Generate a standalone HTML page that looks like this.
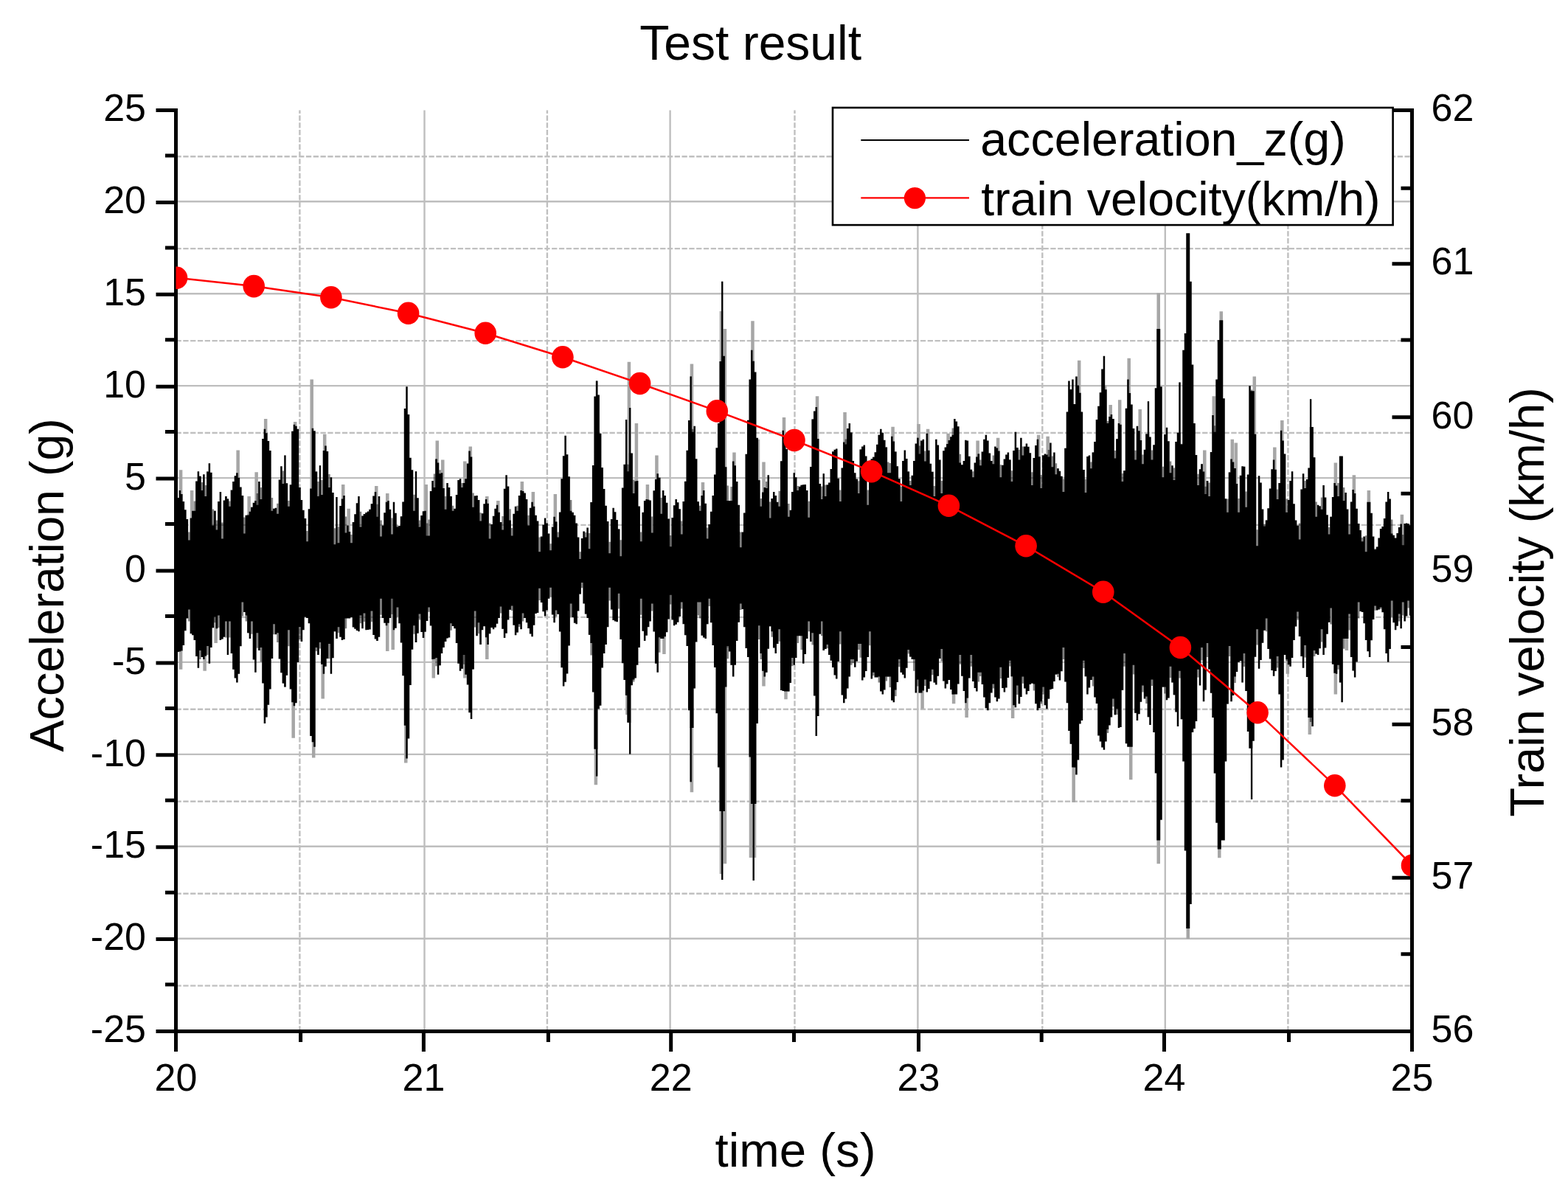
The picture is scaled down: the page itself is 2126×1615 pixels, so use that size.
<!DOCTYPE html>
<html lang="en">
<head>
<meta charset="utf-8">
<title>Test result</title>
<style>
html,body{margin:0;padding:0;background:#fff;}
body{width:2126px;height:1615px;overflow:hidden;}
svg{display:block;}
</style>
</head>
<body>
<svg width="2126" height="1615" viewBox="0 0 2126 1615" font-family='"Liberation Sans", sans-serif'>
<rect width="2126" height="1615" fill="#fff"/>
<g fill="none">
<path d="M238.5 212.2H1914.5M238.5 337.1H1914.5M238.5 462.1H1914.5M238.5 587.0H1914.5M238.5 711.9H1914.5M238.5 836.9H1914.5M238.5 961.8H1914.5M238.5 1086.7H1914.5M238.5 1211.7H1914.5M238.5 1336.6H1914.5M406.4 1398.5V149.5M741.9 1398.5V149.5M1077.5 1398.5V149.5M1413.3 1398.5V149.5M1746.4 1398.5V149.5" stroke="#c0c0c0" stroke-width="2.4" stroke-dasharray="7.3 2.5"/>
<path d="M238.5 273.3H1914.5M238.5 398.2H1914.5M238.5 523.1H1914.5M238.5 648.1H1914.5M238.5 773.0H1914.5M238.5 897.9H1914.5M238.5 1022.9H1914.5M238.5 1147.8H1914.5M238.5 1272.7H1914.5M575.5 149.5V1398.5M908.6 149.5V1398.5M1244.4 149.5V1398.5M1579.8 149.5V1398.5" stroke="#bebebe" stroke-width="2.4"/>
</g>
<g stroke="#000" stroke-width="5" fill="none">
<path d="M238.5 147.0V1426.0M211.5 1398.5H1917.0M1914.5 147.0V1426.0M211.5 149.5H238.5M211.5 274.4H238.5M211.5 399.3H238.5M211.5 524.2H238.5M211.5 649.1H238.5M211.5 774.0H238.5M211.5 898.9H238.5M211.5 1023.8H238.5M211.5 1148.7H238.5M211.5 1273.6H238.5M211.5 1398.5H238.5M224.0 210.9H238.5M224.0 335.9H238.5M224.0 460.8H238.5M224.0 585.6H238.5M224.0 710.5H238.5M224.0 835.5H238.5M224.0 960.4H238.5M224.0 1085.2H238.5M224.0 1210.2H238.5M224.0 1335.0H238.5M238.5 1398.5V1426.0M574.4 1398.5V1426.0M909.7 1398.5V1426.0M1245.5 1398.5V1426.0M1578.5 1398.5V1426.0M1914.5 1398.5V1426.0M407.6 1398.5V1413.0M743.4 1398.5V1413.0M1076.5 1398.5V1413.0M1412.2 1398.5V1413.0M1747.5 1398.5V1413.0M1887.5 1398.5H1914.5M1887.5 1190.3H1914.5M1887.5 982.2H1914.5M1887.5 774.0H1914.5M1887.5 565.8H1914.5M1887.5 357.7H1914.5M1887.5 149.5H1914.5M1899.5 1293.8H1914.5M1899.5 1085.7H1914.5M1899.5 877.5H1914.5M1899.5 669.3H1914.5M1899.5 461.1H1914.5M1899.5 255.2H1914.5"/>
</g>
<clipPath id="c"><rect x="238.5" y="149.5" width="1673.5" height="1249.0"/></clipPath>
<g clip-path="url(#c)">
<path d="M242.86 773V637.3h4.50V773zM257.87 773V665.0h4.50V773zM320.40 773V610.5h4.50V773zM335.41 773V672.9h4.50V773zM345.41 773V640.2h4.50V773zM357.92 773V567.9h4.50V773zM397.94 773V571.9h4.50V773zM420.45 773V514.4h4.50V773zM437.96 773V588.7h4.50V773zM462.97 773V657.1h4.50V773zM470.47 773V689.8h4.50V773zM507.99 773V659.1h4.50V773zM523.00 773V669.0h4.50V773zM575.52 773V657.1h4.50V773zM590.53 773V597.6h4.50V773zM598.03 773V623.4h4.50V773zM628.05 773V625.4h4.50V773zM635.55 773V605.6h4.50V773zM658.06 773V672.9h4.50V773zM673.07 773V678.9h4.50V773zM705.58 773V653.1h4.50V773zM720.59 773V667.0h4.50V773zM750.60 773V670.0h4.50V773zM975.71 773V421.9h4.50V773zM980.71 773V446.1h4.50V773zM850.65 773V490.7h4.50V773zM860.65 773V573.9h4.50V773zM875.66 773V657.1h4.50V773zM888.17 773V617.5h4.50V773zM935.69 773V493.6h4.50V773zM950.70 773V654.1h4.50V773zM993.22 773V613.5h4.50V773zM1018.23 773V435.2h4.50V773zM1025.73 773V595.7h4.50V773zM1033.24 773V626.4h4.50V773zM1060.75 773V565.9h4.50V773zM1105.77 773V537.2h4.50V773zM1143.29 773V559.0h4.50V773zM1208.32 773V578.8h4.50V773zM1243.33 773V574.9h4.50V773zM1255.84 773V581.8h4.50V773zM1283.35 773V587.7h4.50V773zM1323.37 773V597.6h4.50V773zM1350.89 773V593.7h4.50V773zM1405.91 773V589.7h4.50V773zM1418.42 773V591.7h4.50V773zM1460.94 773V488.7h4.50V773zM1495.95 773V522.4h4.50V773zM1503.46 773V549.1h4.50V773zM1515.96 773V542.2h4.50V773zM1528.47 773V485.7h4.50V773zM1543.48 773V555.0h4.50V773zM1568.49 773V397.5h4.50V773zM1631.02 773V610.5h4.50V773zM1643.52 773V537.2h4.50V773zM1653.53 773V422.3h4.50V773zM1668.53 773V595.7h4.50V773zM1673.54 773V600.6h4.50V773zM1698.55 773V510.5h4.50V773zM1726.06 773V606.6h4.50V773zM1736.07 773V569.9h4.50V773zM1808.60 773V627.4h4.50V773zM1833.61 773V644.2h4.50V773zM1853.62 773V665.0h4.50V773zM1898.64 773V697.7h4.50V773zM242.86 773V907.7h4.50V773zM275.38 773V909.7h4.50V773zM290.39 773V872.1h4.50V773zM395.44 773V1000.8h4.50V773zM422.95 773V1027.6h4.50V773zM435.45 773V947.4h4.50V773zM523.00 773V883.0h4.50V773zM530.50 773V881.0h4.50V773zM548.01 773V1034.5h4.50V773zM585.53 773V919.6h4.50V773zM628.05 773V919.6h4.50V773zM658.06 773V893.9h4.50V773zM805.63 773V1064.2h4.50V773zM848.15 773V969.2h4.50V773zM898.17 773V886.9h4.50V773zM935.69 773V1074.2h4.50V773zM975.71 773V1185.1h4.50V773zM980.71 773V1171.2h4.50V773zM1015.73 773V1162.9h4.50V773zM1020.73 773V1162.9h4.50V773zM983.21 773V878.0h4.50V773zM1033.24 773V930.5h4.50V773zM1063.25 773V948.3h4.50V773zM1248.34 773V961.2h4.50V773zM1290.86 773V954.3h4.50V773zM1308.37 773V973.1h4.50V773zM1370.89 773V974.1h4.50V773zM1453.43 773V1088.0h4.50V773zM1530.97 773V1057.3h4.50V773zM1568.49 773V1171.2h4.50V773zM1608.51 773V1273.1h4.50V773zM1651.03 773V1163.3h4.50V773zM1743.57 773V913.7h4.50V773zM1773.58 773V995.9h4.50V773zM1808.60 773V941.4h4.50V773zM1823.61 773V882.0h4.50V773z" fill="#a6a6a6"/>
<path d="M307.85 841.9V887.9h2.1V841.9zM385.38 655.7V617.5h2.1V655.7zM432.90 671.4V631.3h2.1V671.4zM455.41 736.8V673.9h2.1V736.8zM562.97 675.8V639.2h2.1V675.8zM808.08 1015.2V1052.4h2.1V1015.2zM848.10 630.3V568.9h2.1V630.3zM853.10 615.1V553.1h2.1V615.1zM853.10 979.3V1022.6h2.1V979.3zM935.64 570.4V510.5h2.1V570.4zM935.64 986.5V1060.3h2.1V986.5zM978.16 483.2V381.7h2.1V483.2zM978.16 1099.4V1193.0h2.1V1099.4zM1020.68 1089.5V1194.0h2.1V1089.5zM1115.73 673.4V642.2h2.1V673.4zM1555.93 588.9V544.2h2.1V588.9zM1598.45 587.3V518.4h2.1V587.3zM1696.00 1014.2V1084.1h2.1V1014.2zM1776.04 579.5V541.2h2.1V579.5z" fill="#000"/>
<path d="M237.61 684.8V684.8H240.11V674.9H242.61V665.0H245.12V670.0H247.62V679.9H250.12V691.2H252.62V704.1H255.12V732.4H257.62V702.6H260.12V692.7H262.62V692.7H265.12V652.6H267.63V639.2H270.13V645.7H272.63V665.0H275.13V643.2H277.63V672.9H280.13V639.5H282.63V628.3H285.13V640.7H287.64V712.5H290.14V692.7H292.64V718.5H295.14V679.9H297.64V667.0H300.14V730.4H302.64V678.4H305.14V672.9H307.64V676.4H310.15V686.8H312.65V664.5H315.15V653.1H317.65V645.2H320.15V641.2H322.65V647.7H325.15V660.5H327.65V671.9H330.16V723.4H332.66V698.7H335.16V698.7H337.66V693.7H340.16V687.8H342.66V681.8H345.16V678.9H347.66V684.8H350.16V653.1H352.67V676.9H355.17V594.9H357.67V581.8H360.17V587.2H362.67V598.1H365.17V611.0H367.67V692.7H370.17V689.8H372.68V688.8H375.18V696.7H377.68V650.6H380.18V632.3H382.68V656.1H385.18V655.2H387.68V655.2H390.18V686.8H392.68V657.3H395.19V584.8H397.69V575.8H400.19V577.8H402.69V581.8H405.19V660.9H407.69V677.9H410.19V691.7H412.69V703.1H415.20V734.3H417.70V690.3H420.20V662.4H422.70V580.8H425.20V584.3H427.70V639.5H430.20V672.9H432.70V670.9H435.20V670.9H437.71V611.0H440.21V604.6H442.71V612.0H445.21V661.0H447.71V647.2H450.21V668.0H452.71V738.3H455.21V736.3H457.72V736.3H460.22V686.0H462.72V676.6H465.22V671.9H467.72V722.5H470.22V712.5H472.72V721.0H475.22V736.3H477.72V708.1H480.23V697.2H482.73V682.3H485.23V672.9H487.73V714.5H490.23V699.4H492.73V696.9H495.23V695.0H497.73V693.5H500.24V690.8H502.74V683.3H505.24V672.4H507.74V667.0H510.24V700.7H512.74V672.9H515.24V727.4H517.74V712.5H520.24V695.2H522.75V680.8H525.25V678.9H527.75V690.8H530.25V724.4H532.75V680.8H535.25V695.7H537.75V714.5H540.25V713.0H542.76V700.2H545.26V680.5H547.76V554.1H550.26V524.3H552.76V562.0H555.26V620.7H557.76V637.3H560.26V692.7H562.76V675.3H565.27V675.3H567.77V714.5H570.27V698.9H572.77V693.2H575.27V692.7H577.77V726.4H580.27V726.4H582.77V666.0H585.28V652.1H587.78V661.0H590.28V622.4H592.78V627.4H595.28V642.2H597.78V641.2H600.28V662.0H602.78V690.8H605.28V655.1H607.79V661.0H610.29V672.9H612.79V692.7H615.29V689.8H617.79V670.9H620.29V651.1H622.79V649.2H625.29V661.0H627.80V655.1H630.30V649.2H632.80V628.5H635.30V611.5H637.80V619.4H640.30V687.8H642.80V672.4H645.30V671.9H647.80V677.9H650.31V706.6H652.81V696.2H655.31V683.3H657.81V676.9H660.31V682.8H662.81V730.4H665.31V711.1H667.81V699.7H670.32V689.8H672.82V684.8H675.32V694.7H677.82V708.1H680.32V718.5H682.82V662.8H685.32V644.2H687.82V659.6H690.32V705.6H692.83V726.4H695.33V696.7H697.83V686.8H700.33V692.7H702.83V671.9H705.33V665.0H707.83V666.0H710.33V669.0H712.84V676.9H715.34V712.5H717.84V688.8H720.34V680.8H722.84V686.8H725.34V698.7H727.84V706.6H730.34V748.2H732.84V727.4H735.35V711.6H737.85V702.6H740.35V709.6H742.85V723.4H745.35V746.2H747.85V714.5H750.35V700.7H752.85V707.6H755.36V728.4H757.86V694.5H760.36V649.2H762.86V618.2H765.36V590.7H767.86V616.2H770.36V646.2H772.86V692.7H775.36V694.7H777.87V698.7H780.37V709.6H782.87V728.4H785.37V758.1H787.87V729.9H790.37V720.5H792.87V728.4H795.37V715.5H797.88V744.2H800.38V681.0H802.88V631.0H805.38V537.6H807.88V516.4H810.38V535.6H812.88V587.8H815.38V633.9H817.88V663.0H820.39V685.8H822.89V707.1H825.39V750.2H827.89V704.1H830.39V688.8H832.89V694.2H835.39V705.1H837.89V717.5H840.40V754.2H842.90V661.5H845.40V629.8H847.90V629.8H850.40V639.2H852.90V614.6H855.40V614.6H857.90V669.0H860.40V652.6H862.91V652.1H865.41V686.6H867.91V734.3H870.41V694.7H872.91V678.9H875.41V676.9H877.91V677.4H880.41V678.4H882.92V722.5H885.42V665.2H887.92V649.9H890.42V642.2H892.92V647.7H895.42V696.7H897.92V665.0H900.42V671.9H902.92V681.8H905.43V703.6H907.93V741.3H910.43V702.1H912.93V685.3H915.43V676.9H917.93V681.3H920.43V690.3H922.93V724.4H925.44V679.9H927.94V652.8H930.44V610.8H932.94V569.9H935.44V569.9H937.94V585.8H940.44V577.8H942.94V622.3H945.44V680.3H947.95V692.7H950.45V671.9H952.95V665.0H955.45V682.8H957.95V730.4H960.45V711.1H962.95V693.7H965.45V671.9H967.96V643.4H970.46V607.2H972.96V573.9H975.46V490.1H977.96V482.7H980.46V482.7H982.96V633.3H985.46V678.9H987.96V678.9H990.47V678.9H992.97V625.4H995.47V631.3H997.97V653.1H1000.47V684.8H1002.97V742.3H1005.47V721.5H1007.97V695.5H1010.48V615.7H1012.98V569.7H1015.48V514.4H1017.98V474.8H1020.48V489.7H1022.98V504.5H1025.48V593.7H1027.98V651.3H1030.48V686.8H1032.99V667.5H1035.49V661.0H1037.99V662.0H1040.49V644.2H1042.99V702.6H1045.49V675.9H1047.99V667.0H1050.49V671.9H1053.00V680.8H1055.50V686.8H1058.00V625.3H1060.50V583.8H1063.00V592.2H1065.50V609.0H1068.00V700.7H1070.50V691.7H1073.00V667.1H1075.51V641.2H1078.01V647.2H1080.51V665.0H1083.01V659.8H1085.51V657.8H1088.01V657.3H1090.51V657.1H1093.01V665.0H1095.52V701.7H1098.02V632.9H1100.52V568.4H1103.02V557.5H1105.52V552.1H1108.02V595.0H1110.52V655.9H1113.02V676.9H1115.52V672.9H1118.03V672.9H1120.53V657.6H1123.03V654.6H1125.53V636.1H1128.03V612.3H1130.53V609.8H1133.03V608.5H1135.53V648.8H1138.04V679.9H1140.54V634.5H1143.04V599.6H1145.54V602.6H1148.04V581.0H1150.54V573.9H1153.04V586.4H1155.54V625.1H1158.04V641.2H1160.55V649.6H1163.05V669.0H1165.55V609.5H1168.05V605.6H1170.55V603.6H1173.05V618.4H1175.55V684.8H1178.05V638.8H1180.56V622.2H1183.06V619.7H1185.56V613.2H1188.06V602.8H1190.56V589.7H1193.06V581.8H1195.56V586.7H1198.06V596.7H1200.56V606.6H1203.07V641.2H1205.57V641.2H1208.07V591.7H1210.57V598.6H1213.07V612.5H1215.57V632.3H1218.07V649.2H1220.57V679.9H1223.08V624.9H1225.58V610.5H1228.08V621.9H1230.58V639.5H1233.08V658.1H1235.58V644.7H1238.08V624.9H1240.58V601.6H1243.08V593.7H1245.59V615.5H1248.09V597.6H1250.59V595.7H1253.09V625.4H1255.59V587.7H1258.09V610.7H1260.59V628.8H1263.09V639.7H1265.60V672.9H1268.10V595.7H1270.60V603.6H1273.10V623.4H1275.60V669.0H1278.10V611.2H1280.60V606.6H1283.10V601.9H1285.60V597.1H1288.11V592.2H1290.61V589.7H1293.11V567.9H1295.61V571.4H1298.11V578.3H1300.61V627.4H1303.11V630.3H1305.61V625.1H1308.12V596.7H1310.62V597.6H1313.12V618.8H1315.62V636.8H1318.12V647.2H1320.62V627.4H1323.12V619.4H1325.62V615.5H1328.12V631.3H1330.63V612.5H1333.13V595.7H1335.63V589.7H1338.13V597.6H1340.63V614.5H1343.13V624.9H1345.63V629.3H1348.13V605.6H1350.64V607.5H1353.14V611.5H1355.64V647.2H1358.14V630.8H1360.64V622.4H1363.14V616.5H1365.64V613.5H1368.14V623.4H1370.64V653.1H1373.15V611.1H1375.65V585.8H1378.15V607.1H1380.65V623.4H1383.15V593.7H1385.65V617.5H1388.15V605.6H1390.65V601.6H1393.16V605.8H1395.66V614.2H1398.16V658.1H1400.66V620.9H1403.16V604.1H1405.66V595.7H1408.16V619.3H1410.66V662.0H1413.16V617.5H1415.67V615.5H1418.17V616.5H1420.67V619.4H1423.17V600.6H1425.67V633.3H1428.17V613.5H1430.67V643.2H1433.17V635.3H1435.68V638.8H1438.18V645.7H1440.68V667.0H1443.18V607.7H1445.68V558.4H1448.18V516.4H1450.68V528.3H1453.18V514.4H1455.68V548.1H1458.19V510.5H1460.69V522.4H1463.19V532.7H1465.69V558.4H1468.19V636.9H1470.69V668.0H1473.19V618.9H1475.69V617.5H1478.20V635.3H1480.70V613.5H1483.20V598.9H1485.70V568.9H1488.20V550.8H1490.70V532.3H1493.20V500.6H1495.70V482.7H1498.20V528.3H1500.71V573.9H1503.21V565.0H1505.71V562.0H1508.21V567.9H1510.71V621.4H1513.21V595.3H1515.71V573.9H1518.21V575.8H1520.72V653.1H1523.22V638.2H1525.72V553.8H1528.22V514.4H1530.72V533.0H1533.22V548.6H1535.72V581.1H1538.22V623.4H1540.72V577.8H1543.23V584.3H1545.73V597.1H1548.23V629.3H1550.73V609.7H1553.23V588.4H1555.73V588.4H1558.23V592.4H1560.73V623.4H1563.24V603.3H1565.74V526.3H1568.24V446.1H1570.74V446.1H1573.24V524.3H1575.74V647.2H1578.24V589.2H1580.74V579.8H1583.24V598.2H1585.75V641.2H1588.25V631.3H1590.75V651.1H1593.25V599.1H1595.75V586.8H1598.25V586.8H1600.75V602.6H1603.25V474.8H1605.76V452.0H1608.26V316.3H1610.76V316.3H1613.26V381.7H1615.76V494.6H1618.26V573.9H1620.76V617.1H1623.26V658.1H1625.76V636.3H1628.27V629.3H1630.77V639.5H1633.27V670.0H1635.77V652.1H1638.27V672.9H1640.77V613.0H1643.27V563.0H1645.77V585.8H1648.28V514.4H1650.78V460.9H1653.28V434.2H1655.78V434.2H1658.28V540.2H1660.78V676.2H1663.28V694.7H1665.78V640.5H1668.28V622.4H1670.79V626.6H1673.29V635.0H1675.79V656.1H1678.29V694.7H1680.79V644.7H1683.29V632.3H1685.79V632.8H1688.29V687.8H1690.80V643.4H1693.30V523.3H1695.80V530.3H1698.30V530.3H1700.80V588.8H1703.30V740.3H1705.80V645.2H1708.30V654.6H1710.80V690.5H1713.31V713.5H1715.81V705.4H1718.31V689.3H1720.81V662.5H1723.31V636.3H1725.81V623.4H1728.31V636.8H1730.81V676.9H1733.32V655.0H1735.82V583.8H1738.32V597.6H1740.82V615.5H1743.32V694.7H1745.82V677.9H1748.32V652.1H1750.82V639.2H1753.32V683.3H1755.83V705.6H1758.33V712.8H1760.83V731.4H1763.33V663.5H1765.83V642.2H1768.33V662.0H1770.83V650.1H1773.33V634.5H1775.84V579.0H1778.34V579.0H1780.84V620.3H1783.34V700.7H1785.84V684.8H1788.34V686.3H1790.84V690.8H1793.34V658.1H1795.84V674.4H1798.35V698.2H1800.85V724.4H1803.35V700.7H1805.85V673.9H1808.35V655.1H1810.85V658.6H1813.35V672.9H1815.85V618.4H1818.36V618.4H1820.86V678.9H1823.36V668.0H1825.86V690.5H1828.36V724.4H1830.86V680.4H1833.36V664.0H1835.86V669.0H1838.36V689.8H1840.87V710.1H1843.37V719.0H1845.87V734.3H1848.37V727.4H1850.87V748.2H1853.37V680.8H1855.87V680.8H1858.37V695.7H1860.88V727.4H1863.38V745.2H1865.88V741.5H1868.38V729.4H1870.88V717.0H1873.38V714.0H1875.88V703.1H1878.38V680.4H1880.88V667.0H1883.39V676.4H1885.89V723.4H1888.39V725.7H1890.89V729.4H1893.39V722.9H1895.89V715.0H1898.39V710.6H1900.89V739.3H1903.40V710.1H1905.90V709.6H1908.40V710.3H1910.90V712.5H1913.40V712.5H1915.90V712.5H1918.40V834.4H1915.90V834.4H1913.40V834.4H1910.90V814.6H1908.40V835.4H1905.90V842.4H1903.40V816.6H1900.89V852.3H1898.39V832.5H1895.89V848.8H1893.39V854.2H1890.89V844.3H1888.39V814.6H1885.89V880.0H1883.39V897.8H1880.88V885.9H1878.38V853.3H1875.88V830.2H1873.38V823.5H1870.88V826.5H1868.38V827.5H1865.88V821.6H1863.38V840.1H1860.88V868.3H1858.37V890.9H1855.87V883.2H1853.37V867.9H1850.87V845.3H1848.37V830.0H1845.87V829.0H1843.37V816.6H1840.87V897.4H1838.36V918.6H1835.86V909.5H1833.36V891.1H1830.86V832.5H1828.36V866.1H1825.86V866.1H1823.36V866.1H1820.86V952.3H1818.36V925.4H1815.85V901.8H1813.35V913.7H1810.85V912.7H1808.35V900.8H1805.85V824.5H1803.35V843.8H1800.85V859.7H1798.35V878.5H1795.84V887.9H1793.34V853.3H1790.84V879.3H1788.34V887.9H1785.84V886.4H1783.34V882.0H1780.84V985.0H1778.34V973.1H1775.84V973.1H1773.33V917.9H1770.83V875.0H1768.33V905.8H1765.83V889.9H1763.33V862.9H1760.83V829.5H1758.33V849.5H1755.83V868.1H1753.32V891.9H1750.82V903.8H1748.32V901.3H1745.82V893.9H1743.32V887.9H1740.82V1030.6H1738.32V1040.5H1735.82V941.4H1733.32V889.9H1730.81V910.0H1728.31V916.7H1725.81V909.0H1723.31V893.6H1720.81V880.0H1718.31V838.4H1715.81V854.7H1713.31V871.8H1710.80V895.1H1708.30V906.7H1705.80V853.3H1703.30V890.7H1700.80V1004.8H1698.30V1014.7H1695.80V1014.7H1693.30V992.1H1690.80V937.0H1688.29V885.9H1685.79V925.6H1683.29V896.2H1680.79V897.8H1678.29V911.0H1675.79V917.6H1673.29V942.9H1670.79V951.3H1668.28V876.0H1665.78V954.4H1663.28V1032.5H1660.78V1139.5H1658.28V1139.5H1655.78V1151.4H1653.28V1151.4H1650.78V1115.8H1648.28V1048.4H1645.77V973.1H1643.27V939.7H1640.77V907.4H1638.27V872.1H1635.77V935.4H1633.27V951.3H1630.77V878.0H1628.27V929.5H1625.76V907.7H1623.26V978.1H1620.76V988.0H1618.26V992.9H1615.76V1226.1H1613.26V1259.0H1610.76V1259.0H1608.26V1153.4H1605.76V1032.5H1603.25V975.2H1600.75V909.7H1598.25V985.0H1595.75V965.4H1593.25V942.3H1590.75V925.6H1588.25V903.8H1585.75V946.4H1583.24V949.3H1580.74V931.5H1578.24V931.5H1575.74V1111.8H1573.24V1139.5H1570.74V1139.5H1568.24V1048.4H1565.74V992.9H1563.24V921.6H1560.73V983.0H1558.23V972.2H1555.73V944.4H1553.23V947.4H1550.73V929.5H1548.23V951.8H1545.73V968.2H1543.23V977.1H1540.72V966.7H1538.22V901.8H1535.72V1012.7H1533.22V1012.7H1530.72V1012.7H1528.22V1008.2H1525.72V885.9H1523.22V935.7H1520.72V986.0H1518.21V987.0H1515.71V961.2H1513.21V969.2H1510.71V947.4H1508.21V972.6H1505.71V983.5H1503.21V989.0H1500.71V1005.6H1498.20V1016.7H1495.70V1013.5H1493.20V1005.6H1490.70V997.4H1488.20V954.1H1485.70V945.4H1483.20V917.6H1480.70V922.1H1478.20V932.5H1475.69V941.4H1473.19V917.3H1470.69V895.8H1468.19V977.1H1465.69V981.4H1463.19V1030.6H1460.69V1050.4H1458.19V1040.5H1455.68V1040.5H1453.18V1008.8H1450.68V991.1H1448.18V953.2H1445.68V924.5H1443.18V878.0H1440.68V910.2H1438.18V922.6H1435.68V913.7H1433.17V914.4H1430.67V924.1H1428.17V934.0H1425.67V935.0H1423.17V947.6H1420.67V961.2H1418.17V956.3H1415.67V931.5H1413.16V951.3H1410.66V960.2H1408.16V963.2H1405.66V954.3H1403.16V927.5H1400.66V926.6H1398.16V928.0H1395.66V937.0H1393.16V941.4H1390.65V933.5H1388.15V917.6H1385.65V945.1H1383.15V954.3H1380.65V929.5H1378.15V959.2H1375.65V956.3H1373.15V917.3H1370.64V895.8H1368.14V918.9H1365.64V932.5H1363.14V938.4H1360.64V933.0H1358.14V904.8H1355.64V947.4H1353.14V951.3H1350.64V945.4H1348.13V927.5H1345.63V939.4H1343.13V953.3H1340.63V963.2H1338.13V960.2H1335.63V945.4H1333.13V928.0H1330.63V911.7H1328.12V911.7H1325.62V937.5H1323.12V933.0H1320.62V924.1H1318.12V887.9H1315.62V919.6H1313.12V946.4H1310.62V953.3H1308.12V937.1H1305.61V916.7H1303.11V887.9H1300.61V927.5H1298.11V941.4H1295.61V941.4H1293.11V941.4H1290.61V935.0H1288.11V922.1H1285.60V927.5H1283.10V933.5H1280.60V923.6H1278.10V880.0H1275.60V892.9H1273.10V916.7H1270.60V928.5H1268.10V925.6H1265.60V907.7H1263.09V924.1H1260.59V934.0H1258.09V938.4H1255.59V921.6H1253.09V936.5H1250.59V939.4H1248.09V939.4H1245.59V921.6H1243.08V939.4H1240.58V893.9H1238.08V893.9H1235.58V890.6H1233.08V881.0H1230.58V905.8H1228.08V919.6H1225.58V914.7H1223.08V911.7H1220.57V893.9H1218.07V925.1H1215.57V935.5H1213.07V952.3H1210.57V949.8H1208.07V917.6H1205.57V917.6H1203.07V917.6H1200.56V935.5H1198.06V941.4H1195.56V937.5H1193.06V917.6H1190.56V918.4H1188.06V918.6H1185.56V911.7H1183.06V920.6H1180.56V856.2H1178.05V890.9H1175.55V910.0H1173.05V918.4H1170.55V922.6H1168.05V873.1H1165.55V873.1H1163.05V896.8H1160.55V904.8H1158.04V893.9H1155.54V893.9H1153.04V917.6H1150.54V933.5H1148.04V947.4H1145.54V953.3H1143.04V942.4H1140.54V856.2H1138.04V897.0H1135.53V920.6H1133.03V915.4H1130.53V905.0H1128.03V895.8H1125.53V887.9H1123.03V874.1H1120.53V880.0H1118.03V882.0H1115.52V842.4H1113.02V859.8H1110.52V971.1H1108.02V997.9H1105.52V943.4H1103.02V858.2H1100.52V870.1H1098.02V842.4H1095.52V866.1H1093.01V886.9H1090.51V899.8H1088.01V862.2H1085.51V862.2H1083.01V862.2H1080.51V891.9H1078.01V901.8H1075.51V891.9H1073.00V926.1H1070.50V937.5H1068.00V937.5H1065.50V937.5H1063.00V937.0H1060.50V936.0H1058.00V853.3H1055.50V873.1H1053.00V885.9H1050.49V878.5H1047.99V856.2H1045.49V849.3H1042.99V879.7H1040.49V911.7H1037.99V917.6H1035.49V909.7H1032.99V885.9H1030.48V848.3H1027.98V981.0H1025.48V1090.0H1022.98V1090.0H1020.48V1090.0H1017.98V1026.6H1015.48V891.0H1012.98V879.0H1010.48V850.3H1007.97V826.0H1005.47V818.6H1002.97V843.8H1000.47V869.1H997.97V901.8H995.47V917.6H992.97V901.8H990.47V883.5H987.96V876.0H985.46V931.5H982.96V1099.9H980.46V1099.9H977.96V1099.9H975.46V1040.5H972.96V967.2H970.46V905.0H967.96V875.0H965.45V844.3H962.95V811.7H960.45V846.3H957.95V866.1H955.45V864.6H952.95V861.7H950.45V816.6H947.95V816.6H945.44V870.4H942.94V933.4H940.44V987.0H937.94V987.0H935.44V963.2H932.94V876.0H930.44V861.2H927.94V846.3H925.44V816.6H922.93V835.9H920.43V843.8H917.93V846.8H915.43V848.3H912.93V840.4H910.43V806.7H907.93V839.4H905.43V857.2H902.92V863.2H900.42V866.1H897.92V866.1H895.42V864.2H892.92V911.7H890.42V899.8H887.92V856.4H885.42V818.6H882.92V842.4H880.41V850.3H877.91V861.7H875.41V869.1H872.91V855.7H870.41V811.7H867.91V878.0H865.41V901.8H862.91V919.6H860.40V921.6H857.90V929.3H855.40V979.8H852.90V979.8H850.40V942.8H847.90V922.1H845.40V899.3H842.90V867.1H840.40V804.7H837.89V843.3H835.39V842.6H832.89V841.1H830.39V826.5H827.89V796.8H825.39V850.3H822.89V874.1H820.39V885.9H817.88V905.5H815.38V956.8H812.88V961.2H810.38V1015.7H807.88V1015.7H805.38V938.4H802.88V872.1H800.38V860.7H797.88V837.9H795.37V832.5H792.87V818.6H790.37V789.9H787.87V805.5H785.37V828.5H782.87V846.3H780.37V844.8H777.87V837.2H775.36V818.6H772.86V875.4H770.36V913.4H767.86V924.8H765.36V930.5H762.86V905.3H760.36V856.4H757.86V832.7H755.36V827.5H752.85V844.3H750.35V833.4H747.85V796.8H745.35V811.7H742.85V827.5H740.35V835.4H737.85V829.2H735.35V816.9H732.84V797.8H730.34V831.0H727.84V832.0H725.34V847.8H722.84V863.2H720.34V859.4H717.84V852.0H715.34V844.3H712.84V838.1H710.33V831.5H707.83V853.3H705.33V846.3H702.83V857.5H700.33V861.2H697.83V847.8H695.33V821.6H692.83V826.8H690.32V840.4H687.82V858.7H685.32V865.1H682.82V852.8H680.32V822.5H677.82V838.1H675.32V845.8H672.82V850.8H670.32V853.3H667.81V851.0H665.31V859.2H662.81V874.1H660.31V864.2H657.81V849.3H655.31V854.2H652.81V874.1H650.31V844.3H647.80V862.2H645.30V828.5H642.80V907.6H640.30V975.1H637.80V966.2H635.30V928.5H632.80V914.7H630.30V887.9H627.80V906.7H625.29V909.7H622.79V899.8H620.29V872.1H617.79V852.3H615.29V849.0H612.79V845.3H610.29V864.6H607.79V865.6H605.28V870.1H602.78V878.0H600.28V885.9H597.78V902.3H595.28V914.7H592.78V891.9H590.28V893.4H587.78V893.9H585.28V848.5H582.77V823.5H580.27V842.1H577.77V856.7H575.27V865.1H572.77V857.0H570.27V832.5H567.77V858.7H565.27V871.1H562.76V848.3H560.26V880.7H557.76V929.0H555.26V1001.6H552.76V1028.6H550.26V983.8H547.76V916.2H545.26V871.5H542.76V845.3H540.25V823.5H537.75V851.8H535.25V854.2H532.75V811.7H530.25V837.9H527.75V844.8H525.25V848.3H522.75V844.8H520.24V837.9H517.74V811.7H515.24V863.7H512.74V869.1H510.24V866.4H507.74V860.9H505.24V828.5H502.74V853.5H500.24V854.0H497.73V854.2H495.23V831.5H492.73V852.3H490.23V834.4H487.73V856.2H485.23V855.1H482.73V852.8H480.23V850.4H477.72V836.9H475.22V838.4H472.72V838.4H470.22V838.4H467.72V867.1H465.22V868.1H462.72V863.7H460.22V850.3H457.72V866.1H455.21V856.2H452.71V892.3H450.21V913.7H447.71V873.1H445.21V892.9H442.71V903.8H440.21V913.7H437.71V900.8H435.20V871.1H432.70V887.9H430.20V878.0H427.70V1012.7H425.20V1006.3H422.70V997.9H420.20V845.2H417.70V837.9H415.20V836.4H412.69V854.2H410.19V870.1H407.69V850.3H405.19V898.1H402.69V953.3H400.19V957.3H397.69V952.3H395.19V934.5H392.68V854.2H390.18V915.7H387.68V931.5H385.18V926.6H382.68V912.2H380.18V893.4H377.68V858.2H375.18V860.2H372.68V846.3H370.17V892.9H367.67V934.5H365.17V955.8H362.67V972.6H360.17V981.0H357.67V926.4H355.17V878.0H352.67V882.0H350.16V858.2H347.66V911.7H345.16V894.4H342.66V842.4H340.16V866.1H337.66V858.2H335.16V834.4H332.66V830.0H330.16V816.6H327.65V876.2H325.15V913.7H322.65V925.6H320.15V919.6H317.65V907.7H315.15V885.9H312.65V842.4H310.15V842.4H307.64V842.4H305.14V863.7H302.64V866.6H300.14V868.1H297.64V834.4H295.14V852.3H292.64V836.4H290.14V851.3H287.64V878.0H285.13V899.8H282.63V876.0H280.13V889.4H277.63V893.9H275.13V890.9H272.63V882.0H270.13V905.8H267.63V889.9H265.12V868.1H262.62V861.2H260.12V859.2H257.62V826.5H255.12V838.4H252.62V855.2H250.12V875.0H247.62V882.5H245.12V883.5H242.61V884.0H240.11V884.0H237.61Z" fill="#000"/>
<path d="M255.12 721.5h2.50V842.4h-2.50zM262.62 679.4h2.50V868.1h-2.50zM270.13 645.7h2.50V893.9h-2.50zM272.63 654.1h2.50V890.9h-2.50zM277.63 658.1h2.50V889.4h-2.50zM280.13 639.5h2.50V887.9h-2.50zM287.64 690.5h2.50V851.3h-2.50zM290.14 692.7h2.50V844.3h-2.50zM292.64 705.6h2.50V852.3h-2.50zM295.14 679.9h2.50V851.3h-2.50zM300.14 708.4h2.50V866.6h-2.50zM305.14 672.9h2.50V864.4h-2.50zM307.64 676.4h2.50V887.9h-2.50zM310.15 679.4h2.50V864.4h-2.50zM327.65 671.9h2.50V835.4h-2.50zM330.16 701.4h2.50V830.0h-2.50zM332.66 698.7h2.50V842.4h-2.50zM335.16 697.7h2.50V858.2h-2.50zM340.16 687.8h2.50V859.7h-2.50zM347.66 669.0h2.50V878.7h-2.50zM352.67 661.1h2.50V897.5h-2.50zM367.67 674.9h2.50V892.9h-2.50zM370.17 689.8h2.50V860.2h-2.50zM375.18 682.8h2.50V871.1h-2.50zM382.68 638.4h2.50V926.6h-2.50zM385.18 617.5h2.50V931.5h-2.50zM390.18 678.9h2.50V876.2h-2.50zM405.19 660.9h2.50V867.1h-2.50zM412.69 703.1h2.50V837.4h-2.50zM415.20 720.0h2.50V837.9h-2.50zM427.70 639.5h2.50V883.0h-2.50zM430.20 652.9h2.50V887.9h-2.50zM432.70 631.3h2.50V879.5h-2.50zM435.20 651.1h2.50V900.8h-2.50zM445.21 643.0h2.50V893.3h-2.50zM452.71 716.3h2.50V856.2h-2.50zM455.21 673.9h2.50V866.1h-2.50zM457.72 714.3h2.50V858.2h-2.50zM467.72 700.5h2.50V852.3h-2.50zM475.22 724.9h2.50V836.9h-2.50zM487.73 693.7h2.50V845.3h-2.50zM492.73 696.9h2.50V842.9h-2.50zM502.74 683.3h2.50V843.3h-2.50zM510.24 683.8h2.50V869.1h-2.50zM515.24 705.4h2.50V833.7h-2.50zM530.25 702.6h2.50V832.9h-2.50zM537.75 712.5h2.50V836.4h-2.50zM560.26 670.7h2.50V859.7h-2.50zM562.76 639.2h2.50V871.1h-2.50zM567.77 705.6h2.50V840.6h-2.50zM577.77 709.6h2.50V842.1h-2.50zM580.27 704.4h2.50V829.7h-2.50zM587.78 642.5h2.50V893.4h-2.50zM590.28 622.4h2.50V903.3h-2.50zM595.28 637.3h2.50V902.3h-2.50zM602.78 672.9h2.50V870.1h-2.50zM610.29 672.9h2.50V854.7h-2.50zM612.79 685.8h2.50V849.0h-2.50zM625.29 655.1h2.50V906.7h-2.50zM627.80 655.1h2.50V900.8h-2.50zM640.30 668.4h2.50V907.6h-2.50zM642.80 672.4h2.50V850.5h-2.50zM647.80 677.9h2.50V859.2h-2.50zM650.31 695.2h2.50V874.1h-2.50zM662.81 709.6h2.50V859.2h-2.50zM677.82 708.1h2.50V831.5h-2.50zM680.32 699.9h2.50V852.8h-2.50zM690.32 690.3h2.50V826.8h-2.50zM692.83 716.0h2.50V828.0h-2.50zM700.33 685.8h2.50V857.5h-2.50zM702.83 671.9h2.50V850.0h-2.50zM707.83 666.0h2.50V842.4h-2.50zM710.33 668.0h2.50V838.1h-2.50zM715.34 698.7h2.50V852.0h-2.50zM730.34 728.4h2.50V814.1h-2.50zM745.35 737.3h2.50V809.7h-2.50zM752.85 707.6h2.50V835.9h-2.50zM755.36 721.5h2.50V832.7h-2.50zM772.86 677.9h2.50V836.4h-2.50zM785.37 748.2h2.50V805.5h-2.50zM787.87 729.9h2.50V797.3h-2.50zM792.87 722.0h2.50V832.5h-2.50zM797.88 722.9h2.50V860.7h-2.50zM800.38 681.0h2.50V888.6h-2.50zM807.88 516.4h2.50V1052.4h-2.50zM825.39 734.8h2.50V814.6h-2.50zM837.89 717.5h2.50V825.5h-2.50zM840.40 732.2h2.50V867.1h-2.50zM847.90 568.9h2.50V942.8h-2.50zM850.40 629.8h2.50V979.8h-2.50zM852.90 553.1h2.50V1022.6h-2.50zM857.90 650.6h2.50V924.6h-2.50zM867.91 721.5h2.50V833.7h-2.50zM882.92 700.5h2.50V828.5h-2.50zM892.92 647.7h2.50V884.7h-2.50zM895.42 674.9h2.50V866.1h-2.50zM907.93 725.9h2.50V819.6h-2.50zM922.93 706.6h2.50V825.5h-2.50zM935.44 510.5h2.50V1060.3h-2.50zM937.94 581.8h2.50V987.0h-2.50zM945.44 680.3h2.50V834.4h-2.50zM947.95 685.8h2.50V838.4h-2.50zM957.95 715.5h2.50V846.3h-2.50zM960.45 711.1h2.50V822.1h-2.50zM977.96 381.7h2.50V1193.0h-2.50zM985.46 658.5h2.50V893.2h-2.50zM990.47 659.9h2.50V901.8h-2.50zM1002.97 721.5h2.50V827.0h-2.50zM1020.48 489.7h2.50V1194.0h-2.50zM1027.98 651.3h2.50V867.1h-2.50zM1030.48 675.9h2.50V893.9h-2.50zM1037.99 653.1h2.50V911.7h-2.50zM1042.99 680.6h2.50V849.3h-2.50zM1045.49 675.9h2.50V863.7h-2.50zM1055.50 665.8h2.50V869.8h-2.50zM1068.00 683.0h2.50V937.5h-2.50zM1073.00 667.1h2.50V903.3h-2.50zM1080.51 659.1h2.50V872.1h-2.50zM1085.51 657.8h2.50V881.0h-2.50zM1095.52 679.7h2.50V856.2h-2.50zM1100.52 568.4h2.50V874.4h-2.50zM1113.02 659.6h2.50V862.2h-2.50zM1115.52 642.2h2.50V882.0h-2.50zM1118.03 657.6h2.50V880.0h-2.50zM1120.53 657.6h2.50V879.0h-2.50zM1138.04 664.5h2.50V873.4h-2.50zM1145.54 595.4h2.50V947.4h-2.50zM1153.04 586.4h2.50V901.8h-2.50zM1155.54 625.1h2.50V899.3h-2.50zM1163.05 652.3h2.50V881.0h-2.50zM1165.55 609.5h2.50V891.8h-2.50zM1175.55 664.5h2.50V890.9h-2.50zM1178.05 638.8h2.50V875.2h-2.50zM1183.06 619.7h2.50V916.2h-2.50zM1190.56 589.7h2.50V925.6h-2.50zM1200.56 606.6h2.50V923.6h-2.50zM1203.07 626.4h2.50V917.6h-2.50zM1205.57 627.9h2.50V932.1h-2.50zM1213.07 612.5h2.50V943.9h-2.50zM1218.07 649.2h2.50V904.3h-2.50zM1220.57 659.6h2.50V911.7h-2.50zM1230.58 639.5h2.50V886.4h-2.50zM1233.08 651.9h2.50V890.6h-2.50zM1238.08 624.9h2.50V909.7h-2.50zM1243.08 593.7h2.50V930.5h-2.50zM1245.59 604.6h2.50V939.4h-2.50zM1253.09 611.4h2.50V930.0h-2.50zM1263.09 639.7h2.50V915.2h-2.50zM1265.60 658.9h2.50V925.6h-2.50zM1275.60 652.0h2.50V896.8h-2.50zM1290.61 580.4h2.50V941.4h-2.50zM1300.61 615.7h2.50V900.8h-2.50zM1315.62 636.8h2.50V903.8h-2.50zM1318.12 639.2h2.50V924.1h-2.50zM1325.62 615.5h2.50V924.6h-2.50zM1328.12 623.4h2.50V917.1h-2.50zM1345.63 617.5h2.50V933.5h-2.50zM1355.64 630.3h2.50V919.9h-2.50zM1368.14 623.4h2.50V903.5h-2.50zM1370.64 638.3h2.50V917.3h-2.50zM1378.15 607.1h2.50V942.0h-2.50zM1380.65 609.7h2.50V954.3h-2.50zM1385.65 605.6h2.50V926.8h-2.50zM1398.16 640.2h2.50V926.6h-2.50zM1400.66 620.9h2.50V936.5h-2.50zM1410.66 644.0h2.50V954.3h-2.50zM1413.16 617.5h2.50V941.4h-2.50zM1420.67 610.0h2.50V947.6h-2.50zM1425.67 618.5h2.50V934.0h-2.50zM1430.67 628.3h2.50V914.4h-2.50zM1433.17 635.3h2.50V918.1h-2.50zM1440.68 649.6h2.50V893.9h-2.50zM1450.68 527.7h2.50V1008.8h-2.50zM1455.68 547.9h2.50V1040.5h-2.50zM1468.19 636.9h2.50V906.0h-2.50zM1470.69 649.8h2.50V917.3h-2.50zM1478.20 626.4h2.50V922.1h-2.50zM1480.70 613.5h2.50V930.5h-2.50zM1500.71 570.9h2.50V994.1h-2.50zM1508.21 567.9h2.50V958.2h-2.50zM1510.71 611.1h2.50V969.2h-2.50zM1513.21 595.3h2.50V969.0h-2.50zM1520.72 642.1h2.50V935.7h-2.50zM1523.22 638.2h2.50V903.8h-2.50zM1535.72 581.1h2.50V914.6h-2.50zM1538.22 610.7h2.50V966.7h-2.50zM1548.23 616.5h2.50V938.4h-2.50zM1553.23 588.4h2.50V954.0h-2.50zM1555.73 544.2h2.50V972.2h-2.50zM1560.73 610.5h2.50V930.1h-2.50zM1575.74 632.7h2.50V931.5h-2.50zM1578.24 589.2h2.50V940.4h-2.50zM1585.75 625.4h2.50V918.9h-2.50zM1590.75 634.6h2.50V942.3h-2.50zM1598.25 518.4h2.50V919.5h-2.50zM1600.75 601.7h2.50V975.2h-2.50zM1623.26 642.7h2.50V918.6h-2.50zM1628.27 629.3h2.50V895.5h-2.50zM1633.27 659.8h2.50V935.4h-2.50zM1635.77 652.1h2.50V890.9h-2.50zM1638.27 654.6h2.50V907.4h-2.50zM1645.77 577.3h2.50V1048.4h-2.50zM1663.28 676.6h2.50V954.4h-2.50zM1665.78 640.5h2.50V889.9h-2.50zM1673.29 635.0h2.50V926.1h-2.50zM1678.29 675.9h2.50V897.8h-2.50zM1685.79 632.8h2.50V904.1h-2.50zM1688.29 666.5h2.50V937.0h-2.50zM1695.80 528.5h2.50V1084.1h-2.50zM1703.30 718.3h2.50V874.6h-2.50zM1713.31 710.8h2.50V854.7h-2.50zM1715.81 705.4h2.50V856.2h-2.50zM1730.81 663.5h2.50V905.4h-2.50zM1743.32 676.4h2.50V896.3h-2.50zM1758.33 712.8h2.50V840.6h-2.50zM1760.83 709.4h2.50V862.9h-2.50zM1768.33 652.1h2.50V891.4h-2.50zM1775.84 541.2h2.50V979.1h-2.50zM1780.84 620.3h2.50V890.1h-2.50zM1783.34 680.5h2.50V886.4h-2.50zM1790.84 674.4h2.50V870.6h-2.50zM1800.85 715.0h2.50V843.8h-2.50zM1803.35 700.7h2.50V846.5h-2.50zM1813.35 655.1h2.50V907.7h-2.50zM1820.86 661.0h2.50V879.8h-2.50zM1828.36 710.6h2.50V854.5h-2.50zM1840.87 710.1h2.50V838.6h-2.50zM1845.87 728.9h2.50V830.0h-2.50zM1850.87 726.2h2.50V867.9h-2.50zM1863.38 744.0h2.50V827.7h-2.50zM1870.88 717.0h2.50V825.8h-2.50zM1885.89 704.6h2.50V836.6h-2.50zM1895.89 715.0h2.50V842.4h-2.50zM1900.89 724.9h2.50V834.4h-2.50zM1908.40 710.3h2.50V824.5h-2.50zM1910.90 711.8h2.50V834.4h-2.50z" fill="#000" fill-opacity="0.5"/>
<polyline fill="none" stroke="#ff0000" stroke-width="2.5" points="239.5,376.8 344.2,388.1 448.9,403.3 553.6,424.8 658.2,451.8 762.9,484.3 867.6,520.0 972.3,557.4 1077.0,597.0 1181.7,639.2 1286.4,685.8 1391.1,740.3 1495.8,802.7 1600.4,878.0 1705.1,966.2 1809.8,1065.2 1914.5,1173.5"/>
<ellipse cx="239.5" cy="376.8" rx="14.8" ry="15.3" fill="#ff0000"/>
<ellipse cx="344.2" cy="388.1" rx="14.8" ry="15.3" fill="#ff0000"/>
<ellipse cx="448.9" cy="403.3" rx="14.8" ry="15.3" fill="#ff0000"/>
<ellipse cx="553.6" cy="424.8" rx="14.8" ry="15.3" fill="#ff0000"/>
<ellipse cx="658.2" cy="451.8" rx="14.8" ry="15.3" fill="#ff0000"/>
<ellipse cx="762.9" cy="484.3" rx="14.8" ry="15.3" fill="#ff0000"/>
<ellipse cx="867.6" cy="520.0" rx="14.8" ry="15.3" fill="#ff0000"/>
<ellipse cx="972.3" cy="557.4" rx="14.8" ry="15.3" fill="#ff0000"/>
<ellipse cx="1077.0" cy="597.0" rx="14.8" ry="15.3" fill="#ff0000"/>
<ellipse cx="1181.7" cy="639.2" rx="14.8" ry="15.3" fill="#ff0000"/>
<ellipse cx="1286.4" cy="685.8" rx="14.8" ry="15.3" fill="#ff0000"/>
<ellipse cx="1391.1" cy="740.3" rx="14.8" ry="15.3" fill="#ff0000"/>
<ellipse cx="1495.8" cy="802.7" rx="14.8" ry="15.3" fill="#ff0000"/>
<ellipse cx="1600.4" cy="878.0" rx="14.8" ry="15.3" fill="#ff0000"/>
<ellipse cx="1705.1" cy="966.2" rx="14.8" ry="15.3" fill="#ff0000"/>
<ellipse cx="1809.8" cy="1065.2" rx="14.8" ry="15.3" fill="#ff0000"/>
<ellipse cx="1914.5" cy="1173.5" rx="14.8" ry="15.3" fill="#ff0000"/>
</g>
<rect x="1129" y="146" width="759.6" height="159.1" fill="#fff" stroke="#000" stroke-width="2.6"/>
<path d="M1167.3 190H1314" stroke="#000" stroke-width="2.2" fill="none"/>
<path d="M1167.3 268.4H1314" stroke="#ff0000" stroke-width="2.3" fill="none"/>
<circle cx="1240.4" cy="268.6" r="14.6" fill="#ff0000"/>
<g fill="#000">
<text id="lg1" x="1329.2" y="210.5" font-size="64.6">acceleration_z(g)</text>
<text id="lg2" x="1330.3" y="291.5" font-size="64.5">train velocity(km/h)</text>
<text id="title" x="1017.7" y="80.8" font-size="66" text-anchor="middle">Test result</text>
<text id="xlab" x="1078.5" y="1582" font-size="65.4" text-anchor="middle">time (s)</text>
<text id="ylab" transform="translate(85.8 793.3) rotate(-90)" font-size="64.6" text-anchor="middle">Acceleration (g)</text>
<text id="yrlab" transform="translate(2093 816.5) rotate(-90)" font-size="65" text-anchor="middle">Train velocity (km/h)</text>
<text class="yl" x="198" y="164.2" font-size="52" text-anchor="end">25</text>
<text class="yl" x="198" y="289.1" font-size="52" text-anchor="end">20</text>
<text class="yl" x="198" y="414.0" font-size="52" text-anchor="end">15</text>
<text class="yl" x="198" y="538.9" font-size="52" text-anchor="end">10</text>
<text class="yl" x="198" y="663.8" font-size="52" text-anchor="end">5</text>
<text class="yl" x="198" y="788.7" font-size="52" text-anchor="end">0</text>
<text class="yl" x="198" y="913.6" font-size="52" text-anchor="end">-5</text>
<text class="yl" x="198" y="1038.5" font-size="52" text-anchor="end">-10</text>
<text class="yl" x="198" y="1163.4" font-size="52" text-anchor="end">-15</text>
<text class="yl" x="198" y="1288.3" font-size="52" text-anchor="end">-20</text>
<text class="yl" x="198" y="1413.2" font-size="52" text-anchor="end">-25</text>
<text class="xl" x="238.5" y="1479" font-size="52" text-anchor="middle">20</text>
<text class="xl" x="574.4" y="1479" font-size="52" text-anchor="middle">21</text>
<text class="xl" x="909.7" y="1479" font-size="52" text-anchor="middle">22</text>
<text class="xl" x="1245.5" y="1479" font-size="52" text-anchor="middle">23</text>
<text class="xl" x="1578.5" y="1479" font-size="52" text-anchor="middle">24</text>
<text class="xl" x="1914.5" y="1479" font-size="52" text-anchor="middle">25</text>
<text class="yr" x="1940.5" y="1413.2" font-size="52">56</text>
<text class="yr" x="1940.5" y="1205.0" font-size="52">57</text>
<text class="yr" x="1940.5" y="996.9" font-size="52">58</text>
<text class="yr" x="1940.5" y="788.7" font-size="52">59</text>
<text class="yr" x="1940.5" y="580.5" font-size="52">60</text>
<text class="yr" x="1940.5" y="372.4" font-size="52">61</text>
<text class="yr" x="1940.5" y="164.2" font-size="52">62</text>
</g>
</svg>
</body>
</html>
